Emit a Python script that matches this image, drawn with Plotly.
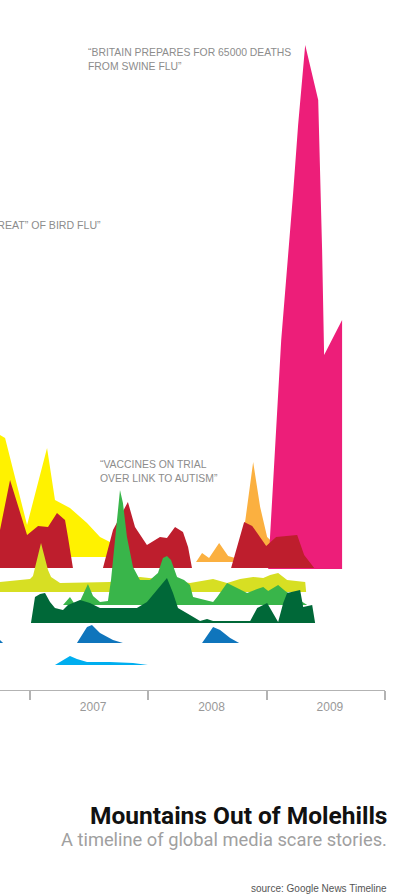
import datetime as dt
import plotly.graph_objects as go

# ---- data (x in decimal years, values = media coverage index) ----
pink_x = [2009.012, 2009.071, 2009.122, 2009.223, 2009.265, 2009.325, 2009.435, 2009.468, 2009.485, 2009.637, 2009.637]
pink_v = [0, 129, 229, 376, 444, 524, 469, 319, 214, 249, 0]

yellow_x = [2006.704, 2006.746, 2006.789, 2006.856, 2006.975, 2007.144, 2007.211, 2007.338, 2007.482, 2007.592, 2007.676, 2007.710]
yellow_v = [132, 122, 119, 87, 32, 109, 57, 49, 34, 20, 15, 0]

red_x = [2006.704, 2006.746, 2006.831, 2006.975, 2007.068, 2007.152, 2007.228, 2007.296, 2007.321, 2007.363,
         2007.617, 2007.702, 2007.828, 2007.888, 2007.989, 2008.099, 2008.158, 2008.226, 2008.293, 2008.336, 2008.369,
         2008.699, 2008.809, 2008.877, 2008.919, 2008.995, 2009.079, 2009.257, 2009.316, 2009.392, 2009.401]
red_v = [36, 38, 88, 33, 42, 41, 55, 48, 31, 0,
         0, 38, 66, 41, 23, 31, 30, 41, 36, 21, 0,
         0, 46, 42, 35, 22, 31, 33, 13, 1, 0]

orange_x = [2008.403, 2008.454, 2008.513, 2008.598, 2008.674, 2008.733, 2008.775, 2008.817, 2008.885, 2008.944, 2009.003, 2009.071, 2009.130, 2009.181]
orange_v = [0, 9, 4, 19, 6, 4, 7, 40, 100, 55, 25, 17, 7, 0]

lime_x = [2006.704, 2006.746, 2007.000, 2007.025, 2007.093, 2007.152, 2007.178, 2007.254, 2007.676, 2007.930, 2008.158,
          2008.352, 2008.547, 2008.665, 2008.775, 2008.885, 2008.970, 2009.029, 2009.096, 2009.172, 2009.325, 2009.333]
lime_v = [10, 10, 13, 16, 49, 22, 15, 9, 10, 15, 12, 9, 13, 9, 13, 15, 14, 17, 19, 12, 10, 0]

green_x = [2007.279, 2007.313, 2007.338, 2007.372, 2007.423, 2007.490, 2007.533, 2007.592, 2007.659, 2007.685, 2007.719,
           2007.761, 2007.786, 2007.820, 2007.871, 2007.930, 2008.014, 2008.082, 2008.124, 2008.158, 2008.192, 2008.243,
           2008.302, 2008.352, 2008.378, 2008.479, 2008.547, 2008.581, 2008.665, 2008.750, 2008.834, 2008.919, 2008.970,
           2009.012, 2009.096, 2009.156, 2009.240, 2009.308, 2009.342]
green_v = [0, 5, 8, 2, 4, 21, 9, 3, 4, 25, 68,
           115, 102, 68, 38, 25, 25, 32, 47, 49, 45, 28,
           25, 20, 8, 5, 3, 8, 22, 17, 12, 16, 18,
           14, 20, 14, 8, 3, 0]

dgreen_x = [2007.008, 2007.042, 2007.085, 2007.127, 2007.169, 2007.211, 2007.279, 2007.321, 2007.423, 2007.507, 2007.592,
            2007.904, 2007.989, 2008.074, 2008.158, 2008.209, 2008.251, 2008.352, 2008.437, 2008.496, 2008.547, 2008.860,
            2008.919, 2009.003, 2009.096, 2009.139, 2009.172, 2009.282, 2009.308, 2009.384, 2009.409]
dgreen_v = [0, 26, 29, 30, 21, 15, 13, 18, 23, 20, 15,
            15, 21, 33, 45, 30, 15, 8, 2, 4, 2, 2,
            15, 20, 1, 20, 30, 33, 16, 18, 0]

blue_x = [2006.704, 2006.746, 2006.772, 2007.397, 2007.482, 2007.524, 2007.592, 2007.702, 2007.786,
          2008.454, 2008.547, 2008.606, 2008.691, 2008.767]
blue_v = [5, 3, 0, 0, 16, 18, 10, 3, 0, 0, 16, 13, 5, 0]

cyan_x = [2007.211, 2007.279, 2007.338, 2007.397, 2007.482, 2007.676, 2007.871, 2007.997]
cyan_v = [0, 5, 9, 6, 3, 3, 2, 0]

# ridgeline layout: (x, values, row offset, colour), back to front
rows = [
    (yellow_x, yellow_v, 133, "#fff200"),
    (orange_x, orange_v, 128, "#fbb040"),
    (pink_x, pink_v, 121, "#ed1e79"),
    (red_x, red_v, 122, "#be1e2d"),
    (lime_x, lime_v, 98, "#d7df23"),
    (green_x, green_v, 85, "#39b54a"),
    (dgreen_x, dgreen_v, 67, "#006838"),
    (blue_x, blue_v, 47, "#0f75bc"),
    (cyan_x, cyan_v, 25, "#00aeef"),
]


def d2dt(d):
    y = int(d)
    a = dt.datetime(y, 1, 1)
    b = dt.datetime(y + 1, 1, 1)
    return a + (b - a) * (d - y)


fig = go.Figure()
for xs, vs, off, col in rows:
    xd = [d2dt(v) for v in xs]
    fig.add_trace(go.Scatter(x=xd, y=[off] * len(xd), mode="lines",
                             line=dict(width=0), hoverinfo="skip", showlegend=False))
    fig.add_trace(go.Scatter(x=xd, y=[off + v for v in vs], mode="lines", fill="tonexty",
                             fillcolor=col, line=dict(width=0, color=col),
                             hoverinfo="skip", showlegend=False))

QF = "Liberation Sans"
qcol = "#8c8c8c"


def ann(text, x, y, size, color, family, xanchor="left", bold=False):
    if bold:
        text = "<b>" + text + "</b>"
    return dict(text=text, x=x, y=y, xref="paper", yref="paper", xanchor=xanchor, align="left",
                yanchor="middle", showarrow=False, font=dict(size=size, color=color, family=family))


annotations = [
    ann("“BRITAIN PREPARES FOR 65000 DEATHS<br>FROM SWINE FLU”", 0.2235, 0.9138, 10.4, qcol, QF),
    ann("“PANDEMIC “THREAT” OF BIRD FLU”", 0.2675, 0.674, 10.6, qcol, QF, xanchor="right"),
    ann("“VACCINES ON TRIAL<br>OVER LINK TO AUTISM”", 0.2545, 0.3163, 10.4, qcol, QF),
    ann("Mountains Out of Molehills", 1.01, -0.1812, 24.5, "#111111", "Roboto", xanchor="right", bold=True),
    ann("A timeline of global media scare stories.", 1.01, -0.2165, 18.3, "#a0a0a0", "Roboto", xanchor="right"),
    ann("source: Google News Timeline", 1.01, -0.287, 10, "#555555", QF, xanchor="right"),
]

fig.update_layout(
    width=400, height=894,
    margin=dict(l=0, r=15, t=0, b=204),
    paper_bgcolor="white", plot_bgcolor="white",
    annotations=annotations,
    xaxis=dict(type="date", range=[d2dt(2006.746), d2dt(2010.0)],
               showgrid=False, zeroline=False, showline=True, linecolor="#b3b3b3", linewidth=1,
               ticks="outside", ticklen=9, tickwidth=2, tickcolor="#b3b3b3",
               dtick="M12", tick0="2007-01-01", tickformat="%Y", ticklabelmode="period",
               ticklabelshift=4, ticklabelstandoff=-3,
               tickfont=dict(size=12, color="#999999", family=QF), fixedrange=True),
    yaxis=dict(range=[0, 690], visible=False, fixedrange=True),
)

fig.write_html("out.html", config={"displayModeBar": False},
               post_script="document.body.style.margin='0';")
